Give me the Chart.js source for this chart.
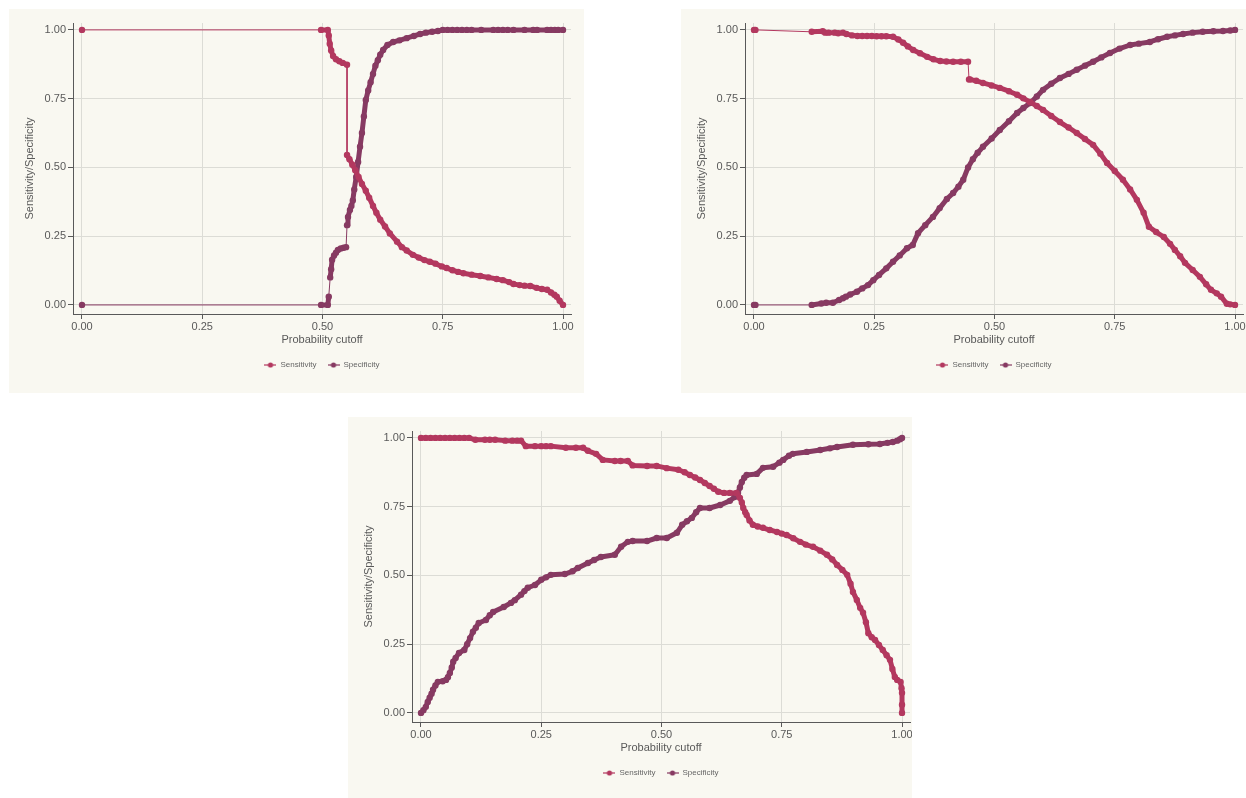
<!DOCTYPE html>
<html>
<head>
<meta charset="utf-8">
<script src="https://cdn.jsdelivr.net/npm/chart.js@4.4.1/dist/chart.umd.min.js"></script>
<style>
  html, body { margin: 0; padding: 0; background: #fff; overflow: hidden; width: 1246px; height: 798px; }
  .panel { position: absolute; background: #f9f8f1; overflow: hidden; }
  #pan1 { left: 9px; top: 9px; width: 575px; height: 384px; }
  #pan2 { left: 681px; top: 9px; width: 565px; height: 384px; }
  #pan3 { left: 348px; top: 417px; width: 564px; height: 381px; }
</style>
</head>
<body>
<div class="panel" id="pan1"><canvas id="c1" width="575" height="384"></canvas></div>
<div class="panel" id="pan2"><canvas id="c2" width="575" height="384"></canvas></div>
<div class="panel" id="pan3"><canvas id="c3" width="575" height="384"></canvas></div>
<script>
// [cutoff, value] pairs
const tickValues = [0, 0.25, 0.5, 0.75, 1];
const seriesNames = ['Sensitivity', 'Specificity'];

const p1Sensitivity = [[0,1],[0.497,1],[0.511,1],[0.513,0.98],[0.515,0.95],[0.518,0.925],[0.522,0.905],[0.528,0.893],[0.535,0.886],[0.542,0.88],[0.551,0.873],[0.551,0.545],[0.556,0.53],[0.562,0.51],[0.568,0.49],[0.575,0.465],[0.582,0.44],[0.59,0.415],[0.597,0.39],[0.605,0.36],[0.612,0.335],[0.62,0.31],[0.63,0.285],[0.64,0.26],[0.655,0.23],[0.665,0.21],[0.675,0.198],[0.688,0.182],[0.7,0.172],[0.712,0.163],[0.723,0.157],[0.735,0.15],[0.748,0.14],[0.758,0.134],[0.77,0.126],[0.782,0.12],[0.793,0.115],[0.81,0.11],[0.828,0.105],[0.845,0.1],[0.862,0.094],[0.875,0.09],[0.888,0.083],[0.897,0.076],[0.91,0.072],[0.92,0.07],[0.932,0.069],[0.945,0.062],[0.956,0.058],[0.967,0.055],[0.975,0.045],[0.982,0.037],[0.987,0.03],[0.993,0.015],[1,0]];
const p1Specificity = [[0,0],[0.497,0],[0.511,0],[0.513,0.03],[0.516,0.1],[0.518,0.13],[0.52,0.164],[0.524,0.18],[0.528,0.19],[0.532,0.2],[0.538,0.205],[0.544,0.208],[0.549,0.21],[0.551,0.29],[0.553,0.32],[0.557,0.345],[0.56,0.36],[0.563,0.38],[0.566,0.42],[0.57,0.465],[0.574,0.52],[0.578,0.575],[0.582,0.625],[0.586,0.685],[0.59,0.745],[0.595,0.78],[0.6,0.81],[0.605,0.84],[0.61,0.87],[0.615,0.89],[0.62,0.91],[0.626,0.927],[0.635,0.945],[0.647,0.956],[0.66,0.962],[0.675,0.97],[0.69,0.978],[0.703,0.985],[0.715,0.99],[0.728,0.993],[0.74,0.996],[0.75,1],[0.76,1],[0.77,1],[0.78,1],[0.79,1],[0.8,1],[0.81,1],[0.83,1],[0.855,1],[0.865,1],[0.875,1],[0.885,1],[0.897,1],[0.92,1],[0.938,1],[0.946,1],[0.967,1],[0.975,1],[0.983,1],[0.99,1],[1,1]];

const p2Sensitivity = [[0,1],[0.003,1],[0.12,0.993],[0.143,0.995],[0.148,0.99],[0.155,0.99],[0.168,0.99],[0.175,0.988],[0.185,0.99],[0.192,0.985],[0.204,0.98],[0.215,0.978],[0.225,0.978],[0.235,0.978],[0.245,0.978],[0.255,0.977],[0.265,0.977],[0.275,0.977],[0.289,0.975],[0.3,0.965],[0.31,0.953],[0.32,0.94],[0.331,0.927],[0.345,0.915],[0.36,0.902],[0.373,0.893],[0.387,0.887],[0.4,0.885],[0.414,0.884],[0.43,0.884],[0.445,0.884],[0.447,0.82],[0.449,0.82],[0.462,0.815],[0.476,0.807],[0.494,0.798],[0.511,0.789],[0.53,0.777],[0.547,0.764],[0.56,0.751],[0.574,0.738],[0.588,0.723],[0.601,0.709],[0.618,0.687],[0.636,0.665],[0.654,0.645],[0.671,0.625],[0.688,0.603],[0.705,0.582],[0.72,0.55],[0.734,0.516],[0.75,0.487],[0.767,0.455],[0.782,0.42],[0.796,0.382],[0.81,0.335],[0.821,0.284],[0.836,0.265],[0.852,0.247],[0.865,0.222],[0.875,0.2],[0.886,0.177],[0.896,0.153],[0.912,0.127],[0.927,0.102],[0.94,0.075],[0.95,0.055],[0.962,0.042],[0.971,0.03],[0.983,0.004],[0.99,0.002],[1,0]];
const p2Specificity = [[0,0],[0.003,0],[0.12,0],[0.14,0.005],[0.15,0.008],[0.164,0.008],[0.177,0.018],[0.185,0.024],[0.191,0.03],[0.2,0.038],[0.214,0.048],[0.225,0.06],[0.237,0.072],[0.248,0.09],[0.26,0.109],[0.275,0.133],[0.289,0.157],[0.303,0.18],[0.318,0.206],[0.33,0.218],[0.341,0.261],[0.356,0.29],[0.372,0.32],[0.386,0.352],[0.401,0.385],[0.414,0.407],[0.425,0.43],[0.435,0.455],[0.445,0.5],[0.455,0.53],[0.465,0.553],[0.476,0.575],[0.494,0.605],[0.511,0.636],[0.53,0.668],[0.547,0.698],[0.56,0.716],[0.574,0.734],[0.588,0.758],[0.601,0.782],[0.618,0.804],[0.636,0.825],[0.654,0.84],[0.671,0.855],[0.688,0.87],[0.705,0.884],[0.722,0.9],[0.74,0.916],[0.76,0.932],[0.782,0.945],[0.8,0.95],[0.823,0.956],[0.84,0.966],[0.859,0.975],[0.875,0.98],[0.892,0.985],[0.912,0.99],[0.933,0.993],[0.955,0.995],[0.975,0.996],[0.99,0.998],[1,1]];

const p3Sensitivity = [[0,1],[0.01,1],[0.02,1],[0.03,1],[0.04,1],[0.05,1],[0.06,1],[0.07,1],[0.08,1],[0.09,1],[0.1,1],[0.113,0.993],[0.133,0.993],[0.143,0.993],[0.154,0.993],[0.175,0.99],[0.19,0.99],[0.2,0.99],[0.208,0.99],[0.218,0.97],[0.237,0.97],[0.25,0.97],[0.26,0.97],[0.27,0.97],[0.301,0.964],[0.322,0.964],[0.337,0.964],[0.347,0.953],[0.364,0.942],[0.378,0.92],[0.403,0.916],[0.415,0.916],[0.43,0.916],[0.44,0.9],[0.47,0.898],[0.49,0.898],[0.511,0.89],[0.535,0.884],[0.548,0.875],[0.559,0.865],[0.57,0.856],[0.58,0.847],[0.59,0.836],[0.6,0.825],[0.609,0.815],[0.618,0.804],[0.63,0.8],[0.642,0.8],[0.656,0.8],[0.663,0.782],[0.667,0.765],[0.67,0.745],[0.674,0.73],[0.677,0.72],[0.683,0.7],[0.69,0.684],[0.7,0.678],[0.711,0.673],[0.725,0.665],[0.74,0.658],[0.75,0.652],[0.76,0.647],[0.774,0.635],[0.788,0.622],[0.8,0.612],[0.815,0.604],[0.83,0.59],[0.844,0.575],[0.855,0.558],[0.865,0.538],[0.876,0.52],[0.886,0.502],[0.893,0.47],[0.898,0.44],[0.906,0.411],[0.913,0.382],[0.919,0.364],[0.925,0.33],[0.93,0.29],[0.937,0.275],[0.944,0.265],[0.952,0.247],[0.96,0.229],[0.968,0.21],[0.975,0.193],[0.98,0.16],[0.985,0.131],[0.99,0.12],[0.997,0.113],[0.999,0.09],[1,0.073],[1,0.03],[1,0]];
const p3Specificity = [[0,0],[0.005,0.01],[0.01,0.022],[0.014,0.04],[0.018,0.055],[0.022,0.07],[0.025,0.084],[0.03,0.1],[0.035,0.113],[0.045,0.115],[0.052,0.12],[0.056,0.13],[0.06,0.145],[0.064,0.165],[0.067,0.186],[0.072,0.2],[0.079,0.218],[0.09,0.229],[0.096,0.25],[0.102,0.272],[0.108,0.295],[0.114,0.31],[0.12,0.327],[0.135,0.338],[0.143,0.355],[0.15,0.367],[0.172,0.385],[0.187,0.4],[0.195,0.41],[0.208,0.43],[0.215,0.443],[0.222,0.455],[0.237,0.465],[0.25,0.484],[0.26,0.493],[0.27,0.502],[0.299,0.505],[0.315,0.515],[0.326,0.527],[0.347,0.545],[0.36,0.556],[0.374,0.567],[0.403,0.575],[0.416,0.604],[0.43,0.622],[0.44,0.625],[0.47,0.625],[0.49,0.636],[0.511,0.636],[0.532,0.655],[0.543,0.684],[0.553,0.697],[0.563,0.709],[0.572,0.73],[0.58,0.745],[0.6,0.745],[0.622,0.756],[0.642,0.771],[0.652,0.785],[0.659,0.8],[0.663,0.82],[0.667,0.84],[0.672,0.855],[0.677,0.865],[0.698,0.869],[0.711,0.891],[0.732,0.895],[0.745,0.91],[0.753,0.92],[0.765,0.935],[0.773,0.942],[0.802,0.949],[0.83,0.956],[0.85,0.962],[0.865,0.967],[0.898,0.975],[0.93,0.977],[0.954,0.978],[0.97,0.982],[0.981,0.985],[0.99,0.99],[0.996,0.995],[1,1]];

const sensColor = '#b3385f';
const specColor = '#873a62';
const textColor = '#595959';

Chart.defaults.font.family = '"Liberation Sans", Arial, sans-serif';

// little line-with-dot symbol like the stata legend
function legendIcon(color) {
    const c = document.createElement('canvas');
    c.width = 12;
    c.height = 6;
    const g = c.getContext('2d');
    g.strokeStyle = color;
    g.lineWidth = 1.2;
    g.beginPath();
    g.moveTo(0, 3);
    g.lineTo(12, 3);
    g.stroke();
    g.fillStyle = color;
    g.beginPath();
    g.arc(6, 3, 2.6, 0, Math.PI * 2);
    g.fill();
    return c;
}
const icons = [legendIcon(sensColor), legendIcon(specColor)];

function toPoints(pairs) {
    return pairs.map(p => ({x: p[0], y: p[1]}));
}

// where markers sit close together they merge into a solid band in the original
function segWidth(c) {
    const d = Math.hypot(c.p1.x - c.p0.x, c.p1.y - c.p0.y);
    return d < 17 ? 5 : 1;
}

function makeSet(label, pairs, color) {
    return {
        label: label,
        data: toPoints(pairs),
        showLine: true,
        borderColor: color,
        backgroundColor: color,
        borderWidth: 1,
        borderCapStyle: 'round',
        borderJoinStyle: 'round',
        segment: {borderWidth: segWidth},
        pointRadius: 3.2,
        pointBorderWidth: 0,
        pointHoverRadius: 3.2
    };
}

function drawPanel(id, sens, spec) {
    new Chart(document.getElementById(id), {
        type: 'scatter',
        data: {
            datasets: [
                makeSet(seriesNames[0], sens, sensColor),
                makeSet(seriesNames[1], spec, specColor)
            ]
        },
        options: {
            responsive: false,
            animation: false,
            layout: {padding: {top: 14, right: 13, bottom: 14, left: 0}},
            plugins: {
                tooltip: {enabled: false},
                legend: {
                    position: 'bottom',
                    fullSize: false,
                    labels: {
                        usePointStyle: true,
                        pointStyleWidth: 12,
                        boxHeight: 8,
                        padding: 11,
                        color: '#666',
                        font: {size: 8},
                        generateLabels: chart => chart.data.datasets.map((d, i) => ({
                            text: d.label,
                            pointStyle: icons[i],
                            fillStyle: d.backgroundColor,
                            strokeStyle: d.borderColor,
                            lineWidth: 0,
                            hidden: false,
                            datasetIndex: i,
                            fontColor: '#666'
                        }))
                    }
                }
            },
            scales: {
                x: {
                    type: 'linear',
                    min: -0.0187,
                    max: 1.0166,
                    afterBuildTicks: s => { s.ticks = tickValues.map(v => ({value: v})); },
                    afterFit: s => { s.height = 36; },
                    ticks: {callback: v => v.toFixed(2), color: textColor, font: {size: 11}, padding: 1, maxRotation: 0, autoSkip: false},
                    grid: {color: '#dcdcd6', tickColor: textColor, tickLength: 5},
                    border: {color: textColor},
                    title: {display: true, text: 'Probability cutoff', color: textColor, font: {size: 11}, padding: {top: 2, bottom: 3}}
                },
                y: {
                    type: 'linear',
                    min: -0.033,
                    max: 1.025,
                    afterBuildTicks: s => { s.ticks = tickValues.map(v => ({value: v})); },
                    afterFit: s => { s.width = 64; },
                    ticks: {callback: v => v.toFixed(2), color: textColor, font: {size: 11}, padding: 2, autoSkip: false},
                    grid: {color: '#dcdcd6', tickColor: textColor, tickLength: 5},
                    border: {color: textColor},
                    title: {display: true, text: 'Sensitivity/Specificity', color: textColor, font: {size: 11}, padding: {top: 14, bottom: 4}}
                }
            }
        }
    });
}

drawPanel('c1', p1Sensitivity, p1Specificity);
drawPanel('c2', p2Sensitivity, p2Specificity);
drawPanel('c3', p3Sensitivity, p3Specificity);
</script>
</body>
</html>
